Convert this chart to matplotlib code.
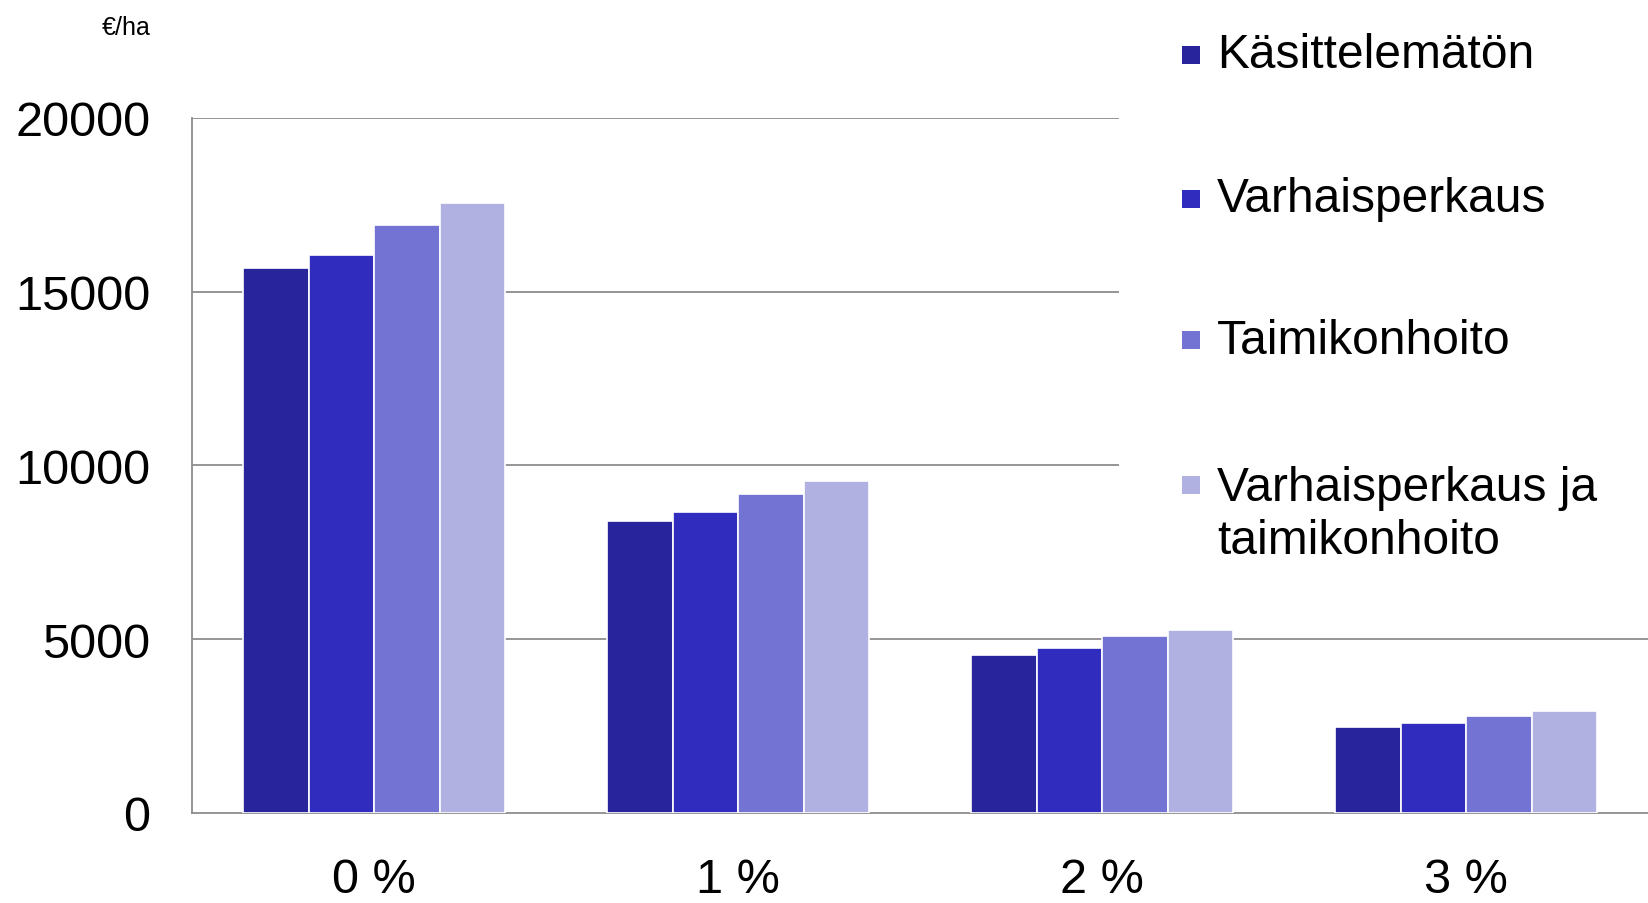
import numpy as np
import matplotlib.pyplot as plt
from matplotlib.patches import Rectangle

plt.rcParams['font.family'] = ['Liberation Sans', 'DejaVu Sans']

# Discount rates and net present values (EUR/ha) per treatment
categories = ['0 %', '1 %', '2 %', '3 %']
series_names = ['Käsittelemätön', 'Varhaisperkaus', 'Taimikonhoito',
                'Varhaisperkaus ja\ntaimikonhoito']
kasittelematon = [15680, 8400, 4560, 2480]
varhaisperkaus = [16070, 8670, 4740, 2600]
taimikonhoito = [16920, 9180, 5080, 2780]
molemmat = [17550, 9550, 5260, 2930]
yticks = [0, 5000, 10000, 15000, 20000]

colors = ['#28259c', '#302dbe', '#7373d3', '#b0b0e1']
values = [kasittelematon, varhaisperkaus, taimikonhoito, molemmat]

fig = plt.figure(figsize=(16.48, 9.04), dpi=100)
ax = fig.add_axes([0.1166, 0.0996, 0.8834, 0.7688])

x = np.arange(len(categories))
w = 0.18
for i, (vals, c) in enumerate(zip(values, colors)):
    ax.bar(x + (i - 1.5) * w, vals, width=w, color=c, edgecolor='white',
           linewidth=1.2, zorder=3)

ax.set_xlim(-0.5, 3.5)
ax.set_ylim(0, 20000)
ax.set_yticks(yticks)
ax.set_yticklabels([str(t) for t in yticks])
ax.set_xticks(x)
ax.set_xticklabels(categories)
ax.tick_params(axis='y', length=0, pad=30, labelsize=35)
ax.tick_params(axis='x', length=0, pad=32, labelsize=35)
for t in yticks[1:]:
    ax.axhline(t, color='#8c8c8c', linewidth=1.3, zorder=1)
for s in ['top', 'right']:
    ax.spines[s].set_visible(False)
ax.spines['left'].set_color('#8c8c8c')
ax.spines['bottom'].set_color('#8c8c8c')
ax.spines['left'].set_linewidth(1.3)
ax.spines['bottom'].set_linewidth(1.3)

fig.text(151 / 1648, 1 - 28 / 904, '€/ha', fontsize=18, ha='right', va='center')

# legend area (white block that hides the upper gridlines)
fig.patches.append(Rectangle((1119 / 1648, 1 - 590 / 904), 1 - 1119 / 1648, 590 / 904,
                             transform=fig.transFigure, facecolor='white',
                             edgecolor='none', zorder=2))
row_y = [56, 200, 341, 486]
line_h = 58
for name, c, yy in zip(series_names, colors, row_y):
    fig.patches.append(Rectangle((1182 / 1648, 1 - (yy + 9) / 904), 18 / 1648, 18 / 904,
                                 transform=fig.transFigure, facecolor=c,
                                 edgecolor='none', zorder=3))
    n_lines = name.count('\n') + 1
    yc = yy + (n_lines - 1) * line_h / 2
    fig.text(1217 / 1648, 1 - yc / 904, name, fontsize=34.5, ha='left', va='center',
             zorder=4, linespacing=1.22)

fig.savefig('out.png', dpi=100)
